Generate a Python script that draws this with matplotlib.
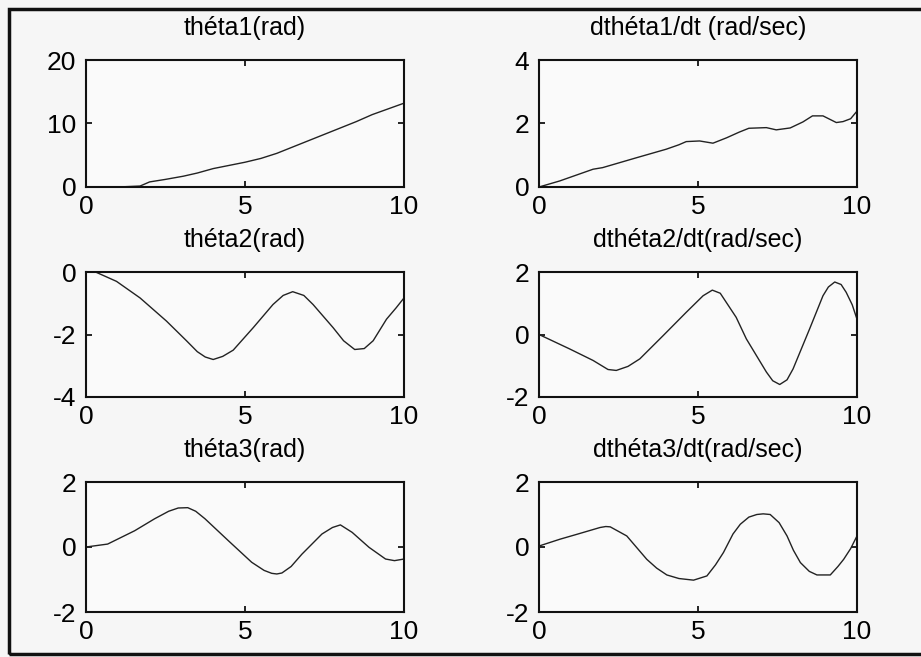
import matplotlib
matplotlib.use("Agg")
import matplotlib.pyplot as plt
from matplotlib.patches import Rectangle

# values (t in seconds)
t1 = [0, 1.0, 1.7, 2.0, 2.5, 3.06, 3.5, 4.0, 4.5, 5.0, 5.5, 6.0, 6.5, 7.0,
      7.5, 8.0, 8.5, 9.0, 9.5, 10.0]
theta1 = [0, 0, 0.15, 0.8, 1.2, 1.7, 2.2, 2.9, 3.4, 3.9, 4.5, 5.3, 6.3, 7.3,
          8.3, 9.3, 10.3, 11.4, 12.3, 13.2]

t2 = [0, 0.65, 1.7, 2.0, 3.06, 4.0, 4.4, 4.63, 5.05, 5.47, 5.9, 6.3, 6.6,
      7.15, 7.46, 7.9, 8.3, 8.6, 8.93, 9.35, 9.56, 9.8, 10.0]
dtheta1 = [0, 0.19, 0.56, 0.61, 0.92, 1.19, 1.33, 1.43, 1.45, 1.38, 1.55,
           1.73, 1.85, 1.87, 1.8, 1.86, 2.05, 2.24, 2.24, 2.03, 2.06, 2.15,
           2.39]

t3 = [0, 0.3, 0.96, 1.7, 2.53, 3.16, 3.5, 3.75, 4.0, 4.3, 4.63, 5.26, 5.88,
      6.2, 6.5, 6.85, 7.14, 7.77, 8.1, 8.45, 8.75, 9.03, 9.45, 9.75, 10.0]
theta2 = [0, 0, -0.3, -0.83, -1.57, -2.2, -2.55, -2.72, -2.8, -2.7, -2.5,
          -1.78, -1.04, -0.75, -0.63, -0.75, -1.04, -1.78, -2.2, -2.48,
          -2.45, -2.2, -1.51, -1.15, -0.83]

t4 = [0, 0.96, 1.7, 2.17, 2.43, 2.8, 3.17, 3.9, 4.63, 5.16, 5.45, 5.7, 6.2,
      6.52, 7.15, 7.35, 7.57, 7.8, 7.99, 8.51, 8.93, 9.1, 9.3, 9.5, 9.66,
      9.85, 10.0]
dtheta2 = [0, -0.46, -0.83, -1.12, -1.15, -1.02, -0.78, -0.04, 0.71, 1.24,
           1.42, 1.32, 0.55, -0.14, -1.2, -1.48, -1.6, -1.45, -1.1, 0.18,
           1.24, 1.52, 1.68, 1.6, 1.35, 0.95, 0.49]

t5 = [0, 0.68, 1.53, 2.16, 2.6, 2.9, 3.2, 3.45, 3.74, 4.47, 5.21, 5.6, 5.84,
      6.0, 6.16, 6.45, 6.79, 7.42, 7.75, 8.0, 8.37, 8.6, 8.9, 9.42, 9.7, 10.0]
theta3 = [0, 0.09, 0.5, 0.87, 1.1, 1.2, 1.21, 1.1, 0.87, 0.2, -0.47, -0.72,
          -0.81, -0.83, -0.8, -0.6, -0.22, 0.4, 0.6, 0.68, 0.45, 0.25, -0.01,
          -0.37, -0.42, -0.37]

t6 = [0, 0.66, 1.19, 1.92, 2.1, 2.24, 2.76, 3.39, 3.7, 4.02, 4.4, 4.86,
      5.28, 5.55, 5.8, 6.1, 6.33, 6.6, 6.85, 7.05, 7.27, 7.55, 7.8, 8.0,
      8.22, 8.5, 8.74, 9.16, 9.4, 9.58, 9.8, 10.0]
dtheta3 = [0.03, 0.24, 0.39, 0.6, 0.63, 0.62, 0.34, -0.38, -0.65, -0.86,
           -0.97, -1.02, -0.89, -0.55, -0.17, 0.4, 0.7, 0.92, 1.0, 1.02, 1.0,
           0.75, 0.34, -0.1, -0.48, -0.75, -0.86, -0.86, -0.6, -0.38, -0.05,
           0.34]

titles = ['théta1(rad)', 'dthéta1/dt (rad/sec)',
          'théta2(rad)', 'dthéta2/dt(rad/sec)',
          'théta3(rad)', 'dthéta3/dt(rad/sec)']
ylims = [(0, 20), (0, 4), (-4, 0), (-2, 2), (-2, 2), (-2, 2)]
yticks = [[0, 10, 20], [0, 2, 4], [-4, -2, 0], [-2, 0, 2], [-2, 0, 2], [-2, 0, 2]]
xticks = [0, 5, 10]

series = [(t1, theta1), (t2, dtheta1), (t3, theta2),
          (t4, dtheta2), (t5, theta3), (t6, dtheta3)]

plt.rcParams['font.family'] = ['Liberation Sans', 'DejaVu Sans']
plt.rcParams['axes.unicode_minus'] = False

W, H = 921, 657
fig = plt.figure(figsize=(W / 100, H / 100), dpi=100)
fig.patch.set_facecolor('#f6f6f6')

# axes boxes in pixels: (left, top, right, bottom)
cols = [(86, 404), (539, 857)]
rows = [(60, 187), (272, 397), (482, 612)]

for i, (t, y) in enumerate(series):
    r, c = divmod(i, 2)
    l, rt = cols[c]
    tp, bt = rows[r]
    ax = fig.add_axes([l / W, 1 - bt / H, (rt - l) / W, (bt - tp) / H])
    ax.set_facecolor('#fafafa')
    ax.plot(t, y, color='#222222', linewidth=1.0)
    ax.set_xlim(0, 10)
    ax.set_ylim(*ylims[i])
    ax.set_xticks(xticks)
    ax.set_yticks(yticks[i])
    ax.tick_params(direction='in', top=True, right=True, length=4,
                   width=1.2, labelsize=19)
    ax.tick_params(axis='x', pad=6)
    ax.tick_params(axis='y', pad=7)
    for s in ax.spines.values():
        s.set_linewidth(1.5)
        s.set_color('#111111')
    ax.set_title(titles[i], fontsize=18, pad=18)

# scanned outer frame
fig.patches.append(Rectangle((9 / W, 1 - 654 / H), 1.2, (654 - 9) / H,
                             transform=fig.transFigure, fill=False,
                             edgecolor='#111111', linewidth=2.5))

fig.savefig('out.png', dpi=100, facecolor=fig.get_facecolor())
